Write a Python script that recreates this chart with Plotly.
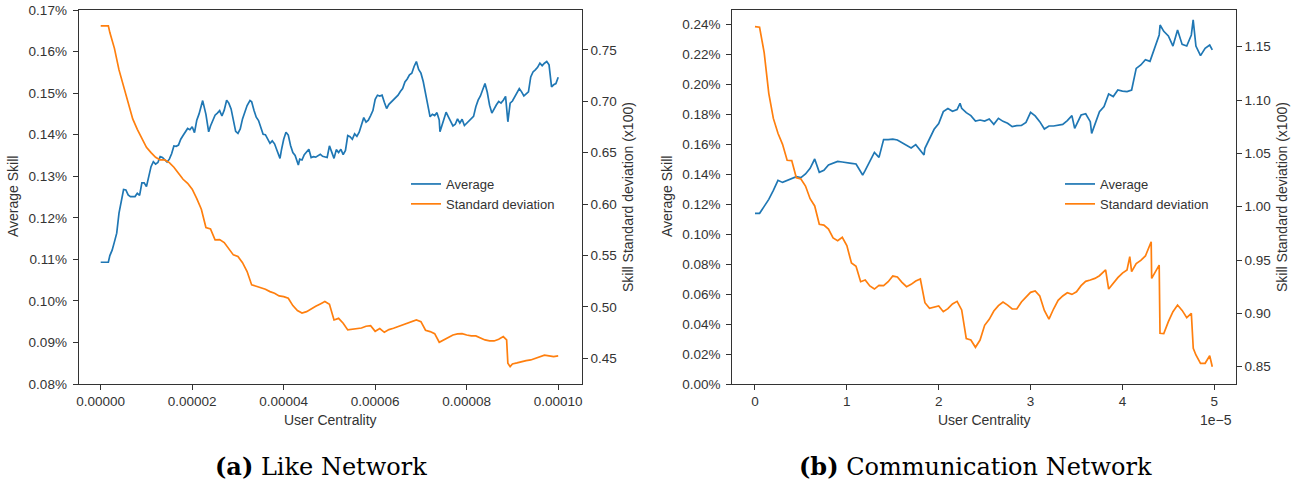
import plotly.graph_objects as go

# ---------------- Data ----------------
# User centrality positions are given in units of 1e-5.

# (a) Like network: average skill (%), sampled along centrality
like_avg_x = [0.0, 0.05, 0.1, 0.15, 0.167, 0.2, 0.25, 0.3, 0.35, 0.4, 0.45, 0.5, 0.55, 0.6, 0.65,
              0.7, 0.75, 0.8, 0.85, 0.9, 0.95, 1.0, 1.05, 1.1, 1.15, 1.2, 1.25, 1.3, 1.35, 1.4,
              1.45, 1.5, 1.55, 1.6, 1.65, 1.7, 1.75, 1.8, 1.85, 1.9, 1.95, 2.0, 2.05, 2.1, 2.15,
              2.2, 2.229, 2.3, 2.36, 2.4, 2.45, 2.5, 2.55, 2.6, 2.65, 2.7, 2.753, 2.8, 2.85, 2.9,
              2.95, 3.0, 3.05, 3.1, 3.15, 3.2, 3.263, 3.3, 3.35, 3.4, 3.45, 3.5, 3.55, 3.6, 3.65,
              3.7, 3.75, 3.8, 3.85, 3.9, 3.919, 3.95, 4.0, 4.05, 4.1, 4.15, 4.2, 4.25, 4.3, 4.32,
              4.35, 4.4, 4.45, 4.5, 4.55, 4.6, 4.65, 4.7, 4.75, 4.8, 4.85, 4.9, 4.95, 5.0, 5.05,
              5.1, 5.15, 5.2, 5.25, 5.3, 5.35, 5.4, 5.45, 5.5, 5.55, 5.6, 5.65, 5.7, 5.75, 5.8,
              5.85, 5.9, 5.95, 6.0, 6.05, 6.1, 6.15, 6.2, 6.25, 6.3, 6.35, 6.4, 6.45, 6.5, 6.55,
              6.6, 6.65, 6.7, 6.75, 6.8, 6.85, 6.9, 6.95, 7.0, 7.05, 7.1, 7.15, 7.2, 7.25, 7.3,
              7.35, 7.4, 7.416, 7.45, 7.5, 7.55, 7.6, 7.65, 7.7, 7.75, 7.8, 7.85, 7.9, 7.95, 8.0,
              8.05, 8.1, 8.15, 8.2, 8.25, 8.3, 8.35, 8.4, 8.45, 8.5, 8.55, 8.6, 8.65, 8.7, 8.75,
              8.8, 8.85, 8.9, 8.95, 9.0, 9.05, 9.1, 9.15, 9.2, 9.25, 9.3, 9.35, 9.4, 9.45, 9.5,
              9.55, 9.6, 9.65, 9.7, 9.75, 9.8, 9.855, 9.9, 9.95, 10.0]
like_avg = [0.1093, 0.1093, 0.1093, 0.1093, 0.1093, 0.1109, 0.1122, 0.1142, 0.1163, 0.1211, 0.1240,
            0.1268, 0.1267, 0.1255, 0.1251, 0.1251, 0.1251, 0.1259, 0.1254, 0.1284, 0.1284, 0.1275,
            0.1296, 0.1323, 0.1335, 0.1329, 0.1333, 0.1347, 0.1345, 0.1339, 0.1334, 0.1341, 0.1354,
            0.1373, 0.1372, 0.1375, 0.1389, 0.1398, 0.1408, 0.1415, 0.1412, 0.1419, 0.1405, 0.1435,
            0.1450, 0.1472, 0.1482, 0.1449, 0.1407, 0.1421, 0.1436, 0.1447, 0.1452, 0.1458, 0.1445,
            0.1459, 0.1483, 0.1476, 0.1462, 0.1435, 0.1408, 0.1403, 0.1414, 0.1438, 0.1454, 0.1470,
            0.1482, 0.1479, 0.1459, 0.1442, 0.1434, 0.1419, 0.1401, 0.1400, 0.1389, 0.1379, 0.1385,
            0.1378, 0.1363, 0.1351, 0.1343, 0.1363, 0.1389, 0.1406, 0.1399, 0.1374, 0.1357, 0.1350,
            0.1333, 0.1327, 0.1341, 0.1339, 0.1352, 0.1359, 0.1365, 0.1345, 0.1347, 0.1346, 0.1349,
            0.1353, 0.1348, 0.1347, 0.1345, 0.1373, 0.1359, 0.1343, 0.1364, 0.1357, 0.1365, 0.1352,
            0.1362, 0.1398, 0.1395, 0.1389, 0.1402, 0.1396, 0.1406, 0.1422, 0.1441, 0.1430, 0.1435,
            0.1446, 0.1458, 0.1485, 0.1495, 0.1493, 0.1495, 0.1478, 0.1463, 0.1473, 0.1479, 0.1483,
            0.1489, 0.1495, 0.1504, 0.1511, 0.1527, 0.1534, 0.1544, 0.1548, 0.1564, 0.1576, 0.1557,
            0.1548, 0.1528, 0.1500, 0.1467, 0.1443, 0.1449, 0.1446, 0.1453, 0.1435, 0.1407, 0.1419,
            0.1440, 0.1454, 0.1443, 0.1430, 0.1421, 0.1425, 0.1438, 0.1428, 0.1437, 0.1422, 0.1427,
            0.1432, 0.1438, 0.1444, 0.1467, 0.1483, 0.1493, 0.1507, 0.1523, 0.1502, 0.1471, 0.1452,
            0.1463, 0.1472, 0.1480, 0.1476, 0.1483, 0.1492, 0.1431, 0.1476, 0.1481, 0.1491, 0.1499,
            0.1511, 0.1503, 0.1493, 0.1498, 0.1503, 0.1539, 0.1551, 0.1556, 0.1562, 0.1572, 0.1566,
            0.1572, 0.1576, 0.1568, 0.1515, 0.1520, 0.1523, 0.1538]

# (a) Like network: skill standard deviation (x100)
like_std_x = [0.0, 0.1, 0.167, 0.2, 0.3, 0.4, 0.5, 0.6, 0.7, 0.8, 0.9, 1.0, 1.1, 1.2, 1.3, 1.4, 1.5,
              1.6, 1.7, 1.8, 1.9, 2.0, 2.1, 2.2, 2.3, 2.4, 2.5, 2.6, 2.7, 2.8, 2.9, 3.0, 3.1, 3.2,
              3.3, 3.4, 3.5, 3.6, 3.7, 3.8, 3.9, 4.0, 4.1, 4.2, 4.3, 4.4, 4.5, 4.6, 4.7, 4.8, 4.9,
              5.0, 5.1, 5.2, 5.3, 5.4, 5.5, 5.6, 5.7, 5.8, 5.9, 6.0, 6.1, 6.2, 6.3, 6.4, 6.5, 6.6,
              6.7, 6.8, 6.9, 7.0, 7.1, 7.2, 7.3, 7.4, 7.5, 7.6, 7.7, 7.8, 7.9, 8.0, 8.1, 8.2, 8.3,
              8.4, 8.5, 8.6, 8.7, 8.8, 8.873, 8.9, 8.95, 9.0, 9.1, 9.2, 9.3, 9.4, 9.5, 9.6, 9.7,
              9.8, 9.9, 10.0]
like_std = [0.7734, 0.7734, 0.7734, 0.7669, 0.7516, 0.7306, 0.7150, 0.7001, 0.6829, 0.6728, 0.6644,
            0.6553, 0.6501, 0.6456, 0.6430, 0.6430, 0.6404, 0.6359, 0.6300, 0.6242, 0.6203, 0.6145,
            0.6054, 0.5950, 0.5772, 0.5759, 0.5652, 0.5655, 0.5626, 0.5571, 0.5506, 0.5490, 0.5431,
            0.5344, 0.5214, 0.5201, 0.5188, 0.5172, 0.5149, 0.5133, 0.5107, 0.5100, 0.5084, 0.5013,
            0.4964, 0.4941, 0.4954, 0.4984, 0.5006, 0.5029, 0.5052, 0.5026, 0.4873, 0.4889, 0.4841,
            0.4776, 0.4782, 0.4792, 0.4795, 0.4812, 0.4818, 0.4763, 0.4789, 0.4753, 0.4779, 0.4792,
            0.4808, 0.4818, 0.4838, 0.4857, 0.4873, 0.4857, 0.4773, 0.4760, 0.4740, 0.4656, 0.4679,
            0.4705, 0.4727, 0.4737, 0.4740, 0.4727, 0.4718, 0.4718, 0.4695, 0.4679, 0.4669, 0.4669,
            0.4685, 0.4711, 0.4679, 0.4452, 0.4419, 0.4445, 0.4455, 0.4468, 0.4478, 0.4484, 0.4500,
            0.4517, 0.4530, 0.4523, 0.4517, 0.4523]

# (b) Communication network: average skill (%)
comm_avg_x = [0.0, 0.05, 0.1, 0.15, 0.2, 0.25, 0.3, 0.35, 0.4, 0.45, 0.5, 0.55, 0.6, 0.65, 0.7, 0.75,
              0.8, 0.85, 0.9, 0.95, 1.0, 1.05, 1.1, 1.15, 1.172, 1.2, 1.25, 1.3, 1.35, 1.4, 1.45,
              1.5, 1.55, 1.6, 1.65, 1.7, 1.75, 1.8, 1.84, 1.85, 1.9, 1.95, 2.0, 2.05, 2.1, 2.15,
              2.2, 2.232, 2.25, 2.3, 2.35, 2.4, 2.45, 2.5, 2.55, 2.6, 2.65, 2.7, 2.75, 2.8, 2.85,
              2.9, 2.95, 3.0, 3.05, 3.1, 3.15, 3.2, 3.25, 3.3, 3.35, 3.4, 3.45, 3.48, 3.5, 3.55,
              3.6, 3.65, 3.665, 3.7, 3.75, 3.8, 3.85, 3.9, 3.95, 4.0, 4.05, 4.1, 4.15, 4.2, 4.25,
              4.3, 4.35, 4.4, 4.41, 4.45, 4.5, 4.55, 4.6, 4.65, 4.7, 4.75, 4.77, 4.8, 4.85, 4.9,
              4.95, 4.978]
comm_avg = [0.1138, 0.1138, 0.1184, 0.1231, 0.1291, 0.1358, 0.1344, 0.1356, 0.1371, 0.1382, 0.1376,
            0.1400, 0.1438, 0.1500, 0.1411, 0.1424, 0.1460, 0.1471, 0.1484, 0.1480, 0.1473, 0.1471,
            0.1467, 0.1416, 0.1393, 0.1424, 0.1480, 0.1544, 0.1511, 0.1629, 0.1629, 0.1633, 0.1627,
            0.1609, 0.1593, 0.1573, 0.1596, 0.1553, 0.1527, 0.1571, 0.1633, 0.1698, 0.1736, 0.1816,
            0.1836, 0.1818, 0.1829, 0.1871, 0.1838, 0.1809, 0.1789, 0.1753, 0.1760, 0.1753, 0.1767,
            0.1731, 0.1771, 0.1751, 0.1738, 0.1716, 0.1722, 0.1724, 0.1744, 0.1811, 0.1787, 0.1749,
            0.1700, 0.1720, 0.1720, 0.1727, 0.1731, 0.1756, 0.1789, 0.1704, 0.1727, 0.1793, 0.1802,
            0.1749, 0.1671, 0.1727, 0.1816, 0.1849, 0.1933, 0.1916, 0.1960, 0.1953, 0.1949, 0.1960,
            0.2104, 0.2127, 0.2162, 0.2151, 0.2238, 0.2327, 0.2393, 0.2351, 0.2320, 0.2253, 0.2360,
            0.2264, 0.2253, 0.2327, 0.2427, 0.2253, 0.2189, 0.2238, 0.2260, 0.2227]

# (b) Communication network: skill standard deviation (x100)
comm_std_x = [0.0, 0.05, 0.1, 0.15, 0.2, 0.25, 0.3, 0.35, 0.4, 0.45, 0.5, 0.55, 0.6, 0.65, 0.7, 0.75,
              0.8, 0.85, 0.9, 0.95, 1.0, 1.05, 1.1, 1.15, 1.2, 1.25, 1.3, 1.35, 1.4, 1.45, 1.5, 1.55,
              1.6, 1.65, 1.7, 1.75, 1.8, 1.85, 1.9, 1.95, 2.0, 2.05, 2.1, 2.15, 2.2, 2.25, 2.3, 2.35,
              2.4, 2.45, 2.5, 2.55, 2.6, 2.65, 2.7, 2.75, 2.8, 2.85, 2.9, 2.95, 3.0, 3.05, 3.1, 3.15,
              3.2, 3.25, 3.3, 3.35, 3.4, 3.45, 3.5, 3.55, 3.6, 3.65, 3.7, 3.75, 3.8, 3.817, 3.85,
              3.9, 3.95, 4.0, 4.05, 4.08, 4.1, 4.15, 4.2, 4.25, 4.3, 4.313, 4.318, 4.35, 4.4, 4.409,
              4.45, 4.5, 4.55, 4.6, 4.65, 4.7, 4.75, 4.771, 4.8, 4.85, 4.9, 4.95, 4.978]
comm_std = [1.1688, 1.1682, 1.1444, 1.1063, 1.0828, 1.0688, 1.0585, 1.0435, 1.0432, 1.0272, 1.0260,
            1.0194, 1.0075, 1.0007, 0.9835, 0.9828, 0.9791, 0.9707, 0.9682, 0.9713, 0.9635, 0.9472,
            0.9441, 0.9297, 0.9313, 0.9257, 0.9228, 0.9263, 0.9260, 0.9297, 0.9350, 0.9341, 0.9291,
            0.9250, 0.9272, 0.9303, 0.9322, 0.9100, 0.9047, 0.9060, 0.9069, 0.9016, 0.9044, 0.9088,
            0.9113, 0.9032, 0.8763, 0.8750, 0.8682, 0.8750, 0.8888, 0.8944, 0.9022, 0.9072, 0.9107,
            0.9078, 0.9041, 0.9041, 0.9107, 0.9153, 0.9197, 0.9210, 0.9163, 0.9028, 0.8947, 0.9041,
            0.9122, 0.9163, 0.9194, 0.9178, 0.9203, 0.9260, 0.9300, 0.9313, 0.9328, 0.9353, 0.9397,
            0.9407, 0.9228, 0.9282, 0.9335, 0.9378, 0.9407, 0.9532, 0.9391, 0.9466, 0.9497, 0.9538,
            0.9657, 0.9672, 0.9328, 0.9372, 0.9453, 0.8813, 0.8810, 0.8922, 0.9016, 0.9078, 0.9028,
            0.8960, 0.9000, 0.8672, 0.8610, 0.8532, 0.8532, 0.8603, 0.8500]

# ---------------- Styling ----------------
W, H = 1315, 486
BLUE = "#1f77b4"
ORANGE = "#ff7f0e"
INK = "#333333"
SANS = "Liberation Sans, Arial, sans-serif"
SERIF = "DejaVu Serif, serif"

def px_x(p):
    return p / W

def px_y(p):
    return 1 - p / H

LEFT_DOM = [px_x(78.7), px_x(581.7)]
RIGHT_DOM = [px_x(732.3), px_x(1235.7)]
Y_DOM = [px_y(384), px_y(10)]

tick_font = dict(family=SANS, size=13.5, color=INK)

def axis_common(**kw):
    base = dict(showgrid=False, zeroline=False, showline=True, linecolor=INK, linewidth=1.2,
                ticks="outside", ticklen=5, tickwidth=1, tickcolor=INK, tickfont=tick_font,
                automargin=False)
    base.update(kw)
    return base

LINE_W = 1.7

fig = go.Figure()

fig.add_trace(go.Scatter(x=[v * 1e-5 for v in like_avg_x], y=like_avg, mode="lines",
                         name="Average", line=dict(color=BLUE, width=LINE_W),
                         xaxis="x", yaxis="y", legend="legend"))
fig.add_trace(go.Scatter(x=[v * 1e-5 for v in like_std_x], y=like_std, mode="lines",
                         name="Standard deviation", line=dict(color=ORANGE, width=LINE_W),
                         xaxis="x", yaxis="y2", legend="legend"))
fig.add_trace(go.Scatter(x=comm_avg_x, y=comm_avg, mode="lines",
                         name="Average", line=dict(color=BLUE, width=LINE_W),
                         xaxis="x2", yaxis="y3", legend="legend2"))
fig.add_trace(go.Scatter(x=comm_std_x, y=comm_std, mode="lines",
                         name="Standard deviation", line=dict(color=ORANGE, width=LINE_W),
                         xaxis="x2", yaxis="y4", legend="legend2"))

legend_style = dict(font=dict(family=SANS, size=13, color=INK), bgcolor="rgba(0,0,0,0)",
                    borderwidth=0, xanchor="left", yanchor="top", itemwidth=30,
                    tracegroupgap=0)

fig.update_layout(
    width=W, height=H,
    margin=dict(l=0, r=0, t=0, b=0, autoexpand=False),
    paper_bgcolor="white", plot_bgcolor="white",
    xaxis=axis_common(domain=LEFT_DOM, anchor="y", range=[-0.481e-5, 10.514e-5],
                      tick0=0, dtick=2e-5, tickformat=".5f", mirror=True),
    yaxis=axis_common(domain=Y_DOM, anchor="x", range=[0.08, 0.17], tick0=0.08, dtick=0.01,
                      tickformat=".2f", ticksuffix="%", ticklabelstandoff=3),
    yaxis2=axis_common(overlaying="y", anchor="x", side="right", range=[0.4250, 0.7889],
                       tick0=0, dtick=0.05, tickformat=".2f"),
    xaxis2=axis_common(domain=RIGHT_DOM, anchor="y3", range=[-0.247, 5.233],
                       tick0=0, dtick=1, tickformat="d", mirror=True),
    yaxis3=axis_common(domain=Y_DOM, anchor="x2", range=[0, 0.24933], tick0=0, dtick=0.02,
                       tickformat=".2f", ticksuffix="%", ticklabelstandoff=3),
    yaxis4=axis_common(overlaying="y3", anchor="x2", side="right", range=[0.8338, 1.1844],
                       tick0=0, dtick=0.05, tickformat=".2f"),
    legend=dict(legend_style, x=px_x(406), y=px_y(169)),
    legend2=dict(legend_style, x=px_x(1060), y=px_y(169)),
    showlegend=True,
)

label_font = dict(family=SANS, size=14, color=INK)
annotations = [
    dict(text="Average Skill", x=px_x(13), y=px_y(197), textangle=-90),
    dict(text="Skill Standard deviation (x100)", x=px_x(628), y=px_y(197), textangle=-90),
    dict(text="User Centrality", x=px_x(330), y=px_y(419.5)),
    dict(text="Average Skill", x=px_x(667), y=px_y(197), textangle=-90),
    dict(text="Skill Standard deviation (x100)", x=px_x(1282), y=px_y(197), textangle=-90),
    dict(text="User Centrality", x=px_x(984), y=px_y(419.5)),
]
for a in annotations:
    fig.add_annotation(xref="paper", yref="paper", showarrow=False, font=label_font,
                       xanchor="center", yanchor="middle", **a)

fig.add_annotation(text="1e\u22125", xref="paper", yref="paper", x=px_x(1234), y=px_y(420),
                   xanchor="right", yanchor="middle", showarrow=False, font=label_font)

caption_font = dict(family=SERIF, size=24, color="black")
fig.add_annotation(text="<b>(a)</b> Like Network", xref="paper", yref="paper",
                   x=px_x(321), y=px_y(466), xanchor="center", yanchor="middle",
                   showarrow=False, font=caption_font)
fig.add_annotation(text="<b>(b)</b> Communication Network", xref="paper", yref="paper",
                   x=px_x(975.5), y=px_y(466), xanchor="center", yanchor="middle",
                   showarrow=False, font=caption_font)

fig.write_html("out.html")
